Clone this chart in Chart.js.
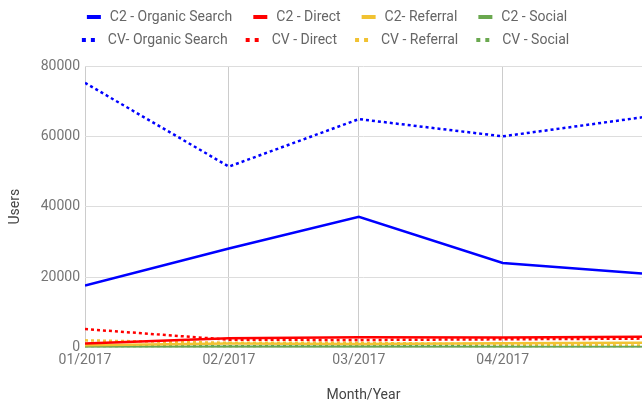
<!DOCTYPE html>
<html>
<head>
<meta charset="utf-8">
<script src="https://cdn.jsdelivr.net/npm/chart.js"></script>
<style>
  body { margin: 0; background: #fff; }
  #wrap { width: 642px; height: 405px; }
</style>
</head>
<body>
<div id="wrap"><canvas id="myChart"></canvas></div>
<script>
document.addEventListener('DOMContentLoaded', function(){

// Users per month, C2 vs CV, split by channel
const months = ['01/2017', '02/2017', '03/2017', '04/2017', '05/2017'];
const yTicks = [0, 20000, 40000, 60000, 80000];

const c2Organic = [17600, 28100, 37100, 24000, 21000];
const c2Direct = [1100, 2600, 2900, 2800, 3000];
const c2Referral = [600, 1100, 1000, 1200, 1300];
const c2Social = [100, 150, 150, 120, 100];

const cvOrganic = [75200, 51400, 64900, 60000, 65400];
const cvDirect = [5200, 2200, 2100, 2300, 2500];
const cvReferral = [2000, 1300, 1300, 900, 500];
const cvSocial = [300, 350, 400, 350, 300];

// days since the first month, so the x spacing follows the month lengths
const monthDays = months.map(function(m){
  const parts = m.split('/');
  return (Date.UTC(+parts[1], parts[0] - 1, 1) - Date.UTC(2017, 0, 1)) / 86400000;
});

// little legend marks: a bar for solid lines, two dots for dotted ones
function marker(color, dotted) {
  const c = document.createElement('canvas');
  c.width = 28;
  c.height = 6;
  const g = c.getContext('2d');
  g.fillStyle = color;
  if (dotted) {
    g.fillRect(9, 1, 4, 4);
    g.fillRect(18, 1, 4, 4);
  } else {
    g.fillRect(12, 1, 14, 4);
  }
  return c;
}

function series(label, values, color, dotted) {
  return {
    label: label,
    data: values.map(function(v, i){ return {x: monthDays[i], y: v}; }),
    borderColor: color,
    backgroundColor: color,
    borderWidth: 2.5,
    borderDash: dotted ? [3, 3] : [],
    pointRadius: 0,
    pointStyle: marker(color, dotted),
    tension: 0
  };
}

// the legend sits a bit higher than the plot, give it some room below
const legendMargin = {
  id: 'legendMargin',
  beforeInit(chart) {
    const fitLegend = chart.legend.fit;
    chart.legend.fit = function fit() {
      fitLegend.bind(chart.legend)();
      this.height += 9;
    };
  }
};

Chart.defaults.font.family = 'Roboto';
Chart.defaults.font.size = 14;

const ctx = document.getElementById('myChart');

new Chart(ctx, {
  type: 'line',
  data: {
    datasets: [
      series('C2 - Organic Search', c2Organic, '#0000ff', false),
      series('C2 - Direct', c2Direct, '#ff0000', false),
      series('C2- Referral', c2Referral, '#f1c232', false),
      series('C2 - Social', c2Social, '#6aa84f', false),
      series('CV- Organic Search', cvOrganic, '#0000ff', true),
      series('CV - Direct', cvDirect, '#ff0000', true),
      series('CV - Referral', cvReferral, '#f1c232', true),
      series('CV - Social', cvSocial, '#6aa84f', true)
    ]
  },
  options: {
    responsive: true,
    maintainAspectRatio: false,
    animation: false,
    layout: { padding: { top: 1 } },
    plugins: {
      legend: {
        position: 'top',
        labels: {
          usePointStyle: true,
          pointStyleWidth: 28,
          padding: 9,
          color: '#666666',
          font: { size: 14 }
        }
      },
      tooltip: { enabled: false }
    },
    scales: {
      x: {
        type: 'linear',
        min: monthDays[0],
        max: monthDays[monthDays.length - 1],
        afterBuildTicks: function(axis){
          axis.ticks = monthDays.map(function(d){ return {value: d}; });
        },
        grid: { color: '#cccccc', drawTicks: true, tickLength: 5, tickColor: 'transparent' },
        border: { display: false },
        ticks: {
          padding: 0,
          maxRotation: 0,
          autoSkip: false,
          color: '#757575',
          callback: function(value, index){
            return index < months.length - 1 ? months[index] : '';
          }
        },
        title: { display: true, text: 'Month/Year', color: '#444444', padding: { top: 18, bottom: 1 } }
      },
      y: {
        min: 0,
        max: 80000,
        afterBuildTicks: function(axis){
          axis.ticks = yTicks.map(function(v){ return {value: v}; });
        },
        afterFit: function(scale){
          scale.width = 85;
        },
        grid: { color: '#dddddd', drawTicks: false },
        border: { display: false },
        ticks: {
          padding: 5,
          color: '#757575',
          callback: function(value){ return value; }
        },
        title: { display: true, text: 'Users', color: '#444444', padding: { top: 7.5, bottom: 0 } }
      }
    }
  },
  plugins: [legendMargin]
});

});
</script>
</body>
</html>
